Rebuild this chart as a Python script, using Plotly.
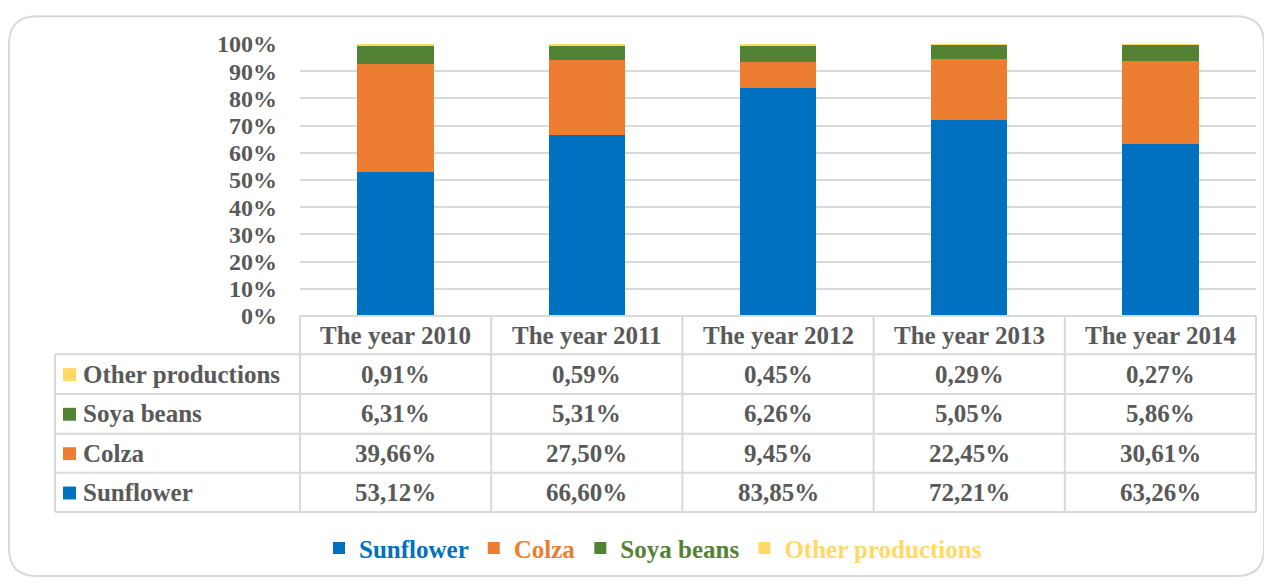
import plotly.graph_objects as go

years = ["The year 2010", "The year 2011", "The year 2012", "The year 2013", "The year 2014"]
sunflower = [53.12, 66.60, 83.85, 72.21, 63.26]
colza = [39.66, 27.50, 9.45, 22.45, 30.61]
soya = [6.31, 5.31, 6.26, 5.05, 5.86]
other = [0.91, 0.59, 0.45, 0.29, 0.27]

series_names = ["Sunflower", "Colza", "Soya beans", "Other productions"]
series_values = [sunflower, colza, soya, other]
series_colors = ["#0070C0", "#ED7D31", "#548235", "#FFD966"]

OFF = 8  # page body margin
W, H = 1264, 575
L, R, T, B = 292, 16, 36, 265
PW, PH = W - L - R, H - T - B
FONT = "Liberation Serif"
GRAY = "#595959"
LINE = "#D9D9D9"


def fx(sx):
    """screen x -> paper x"""
    return (sx - OFF - L) / PW


def fy(sy):
    """screen y -> paper y"""
    return (H - B - (sy - OFF)) / PH


fig = go.Figure()
for name, vals, col in zip(series_names, series_values, series_colors):
    fig.add_trace(go.Bar(
        x=years, y=vals,
        name=f'<span style="color:{col}">{name}</span>',
        marker=dict(color=col, line=dict(width=0)),
    ))

shapes = []
annotations = []

# table grid
row_lines = [318, 356.5, 396.5, 436.5, 476, 515.5]
for i, yy in enumerate(row_lines):
    x0 = 300 if i == 0 else 55
    shapes.append(dict(type="line", xref="paper", yref="paper",
                       x0=fx(x0), x1=fx(1256), y0=fy(yy), y1=fy(yy),
                       line=dict(color=LINE, width=2)))
col_lines = [300, 491.2, 682.4, 873.6, 1064.8, 1256]
for xx in col_lines:
    shapes.append(dict(type="line", xref="paper", yref="paper",
                       x0=fx(xx), x1=fx(xx), y0=fy(318), y1=fy(515.5),
                       line=dict(color=LINE, width=2)))
shapes.append(dict(type="line", xref="paper", yref="paper",
                   x0=fx(55), x1=fx(55), y0=fy(356.5), y1=fy(515.5),
                   line=dict(color=LINE, width=2)))

# outer rounded frame
x0, x1, y0, y1, r = fx(9), fx(1264), fy(16), fy(580), 28
rx, ry = r / PW, r / PH
path = (f"M {x0+rx},{y0} L {x1-rx},{y0} Q {x1},{y0} {x1},{y0-ry} "
        f"L {x1},{y1+ry} Q {x1},{y1} {x1-rx},{y1} L {x0+rx},{y1} "
        f"Q {x0},{y1} {x0},{y1+ry} L {x0},{y0-ry} Q {x0},{y0} {x0+rx},{y0} Z")
shapes.append(dict(type="path", xref="paper", yref="paper", path=path,
                   line=dict(color=LINE, width=2), layer="below"))

tfont = dict(family=FONT, size=25, color=GRAY, weight="bold")

# header row
for yr in years:
    annotations.append(dict(x=yr, xref="x", y=fy(337.5), yref="paper",
                            text=yr, showarrow=False, font=tfont,
                            xanchor="center", yanchor="middle"))

# data rows (top to bottom: other, soya, colza, sunflower)
row_centers = [376.5, 416.5, 456.2, 495.8]
order = [3, 2, 1, 0]
for rc, si in zip(row_centers, order):
    # key square
    shapes.append(dict(type="rect", xref="paper", yref="paper",
                       x0=fx(63), x1=fx(76), y0=fy(rc - 6), y1=fy(rc + 7),
                       fillcolor=series_colors[si], line=dict(width=0)))
    annotations.append(dict(
        x=fx(81), xref="paper", y=fy(rc), yref="paper",
        text=series_names[si],
        showarrow=False, font=tfont, xanchor="left", yanchor="middle"))
    for yr, v in zip(years, series_values[si]):
        annotations.append(dict(
            x=yr, xref="x", y=fy(rc), yref="paper",
            text=f"{v:.2f}".replace(".", ",") + "%",
            showarrow=False, font=tfont, xanchor="center", yanchor="middle"))

fig.update_layout(
    width=W, height=H,
    margin=dict(l=L, r=R, t=T, b=B),
    barmode="stack",
    bargap=0.6,
    paper_bgcolor="white",
    plot_bgcolor="white",
    template="none",
    font=dict(family=FONT, color=GRAY),
    shapes=shapes,
    annotations=annotations,
    showlegend=True,
    legend=dict(orientation="h", x=fx(653), xanchor="center",
                y=fy(552), yanchor="middle",
                font=dict(family=FONT, size=25, weight="bold"),
                itemwidth=30, traceorder="normal", bgcolor="rgba(0,0,0,0)"),
    xaxis=dict(showticklabels=False, showgrid=False, zeroline=False,
               showline=False, ticks=""),
    yaxis=dict(range=[0, 100], dtick=10, ticksuffix="%",
               showgrid=True, gridcolor=LINE, gridwidth=1.5,
               zeroline=False, showline=False, ticks="",
               ticklabelstandoff=22,
               tickfont=dict(family=FONT, size=24, color=GRAY, weight="bold")),
)

fig.write_html("out.html")
